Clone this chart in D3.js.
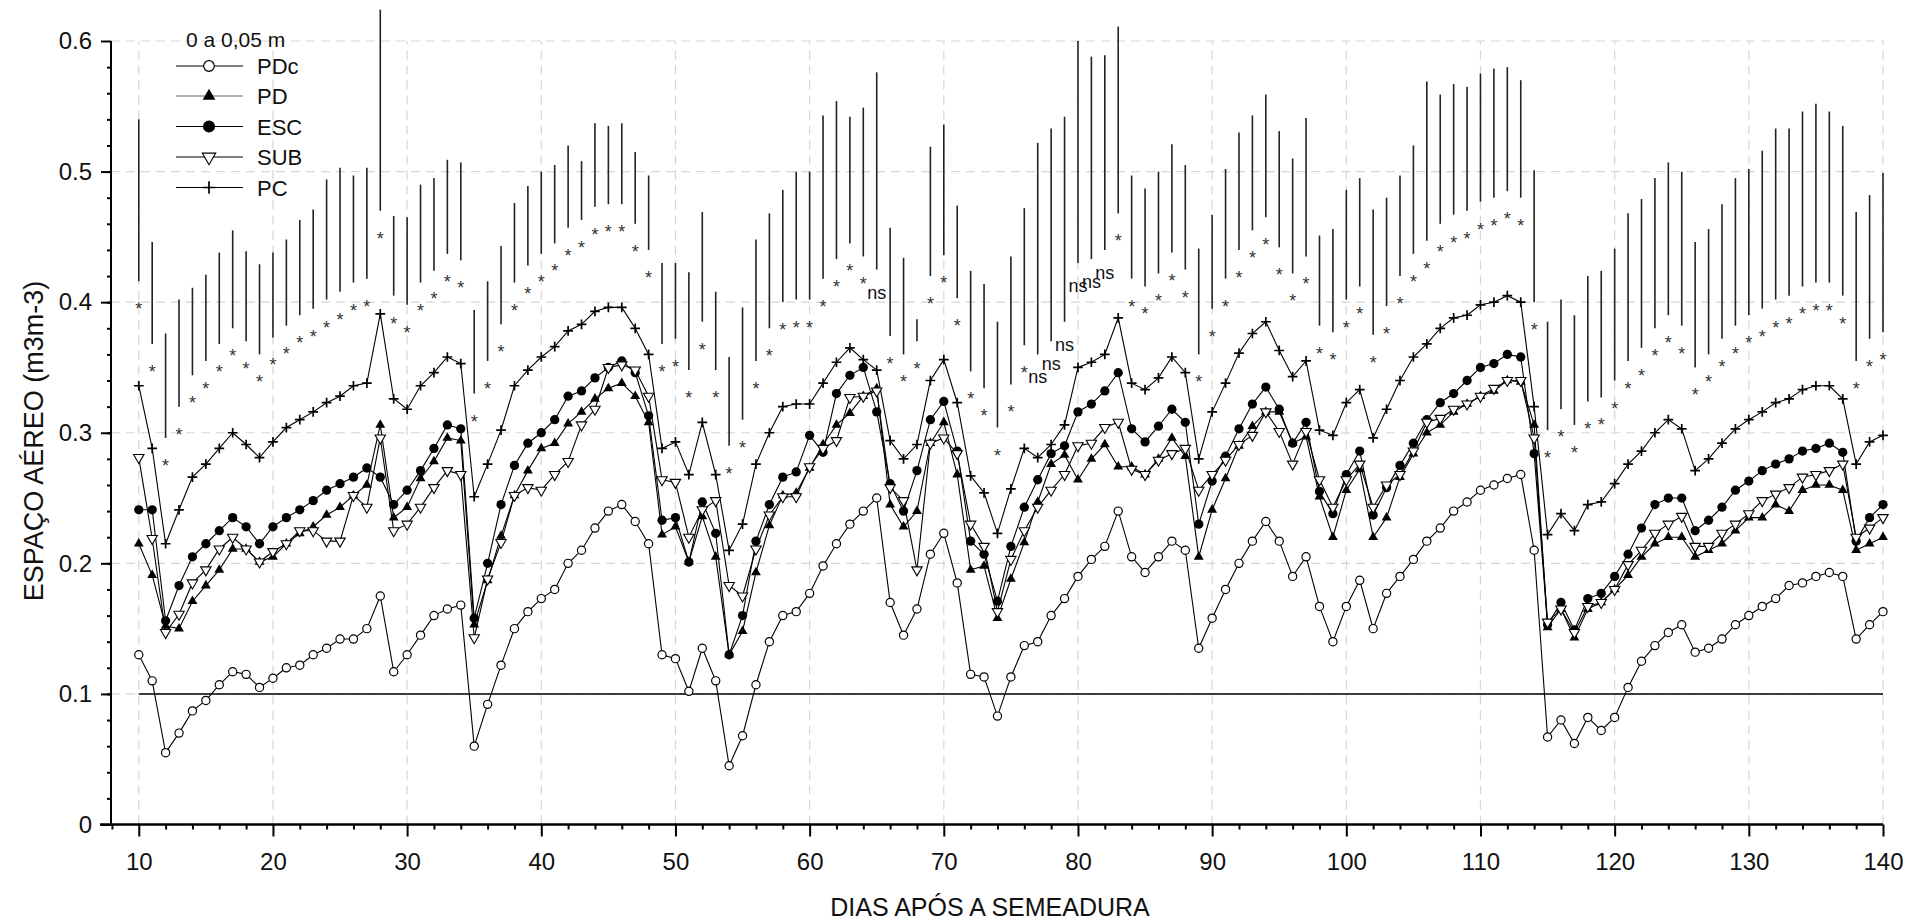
<!DOCTYPE html>
<html>
<head>
<meta charset="utf-8">
<script src="https://cdn.jsdelivr.net/npm/d3@7.9.0/dist/d3.min.js"></script>
<style>
  body { margin: 0; background: #fff; }
  svg { font-family: "Liberation Sans", Arial, sans-serif; }
</style>
</head>
<body>
<svg id="chart" width="1928" height="923"></svg>
<script>
// days after sowing: 10..140
const days = d3.range(10, 141);

// air-filled porosity, 0 to 0.05 m layer
const pdc = [
  .130,.110,.055,.070,.087,.095,.107,.117,.115,.105,
  .112,.120,.122,.130,.135,.142,.142,.150,.175,.117,
  .130,.145,.160,.165,.168,.060,.092,.122,.150,.163,
  .173,.180,.200,.210,.227,.240,.245,.232,.215,.130,
  .127,.102,.135,.110,.045,.068,.107,.140,.160,.163,
  .177,.198,.215,.230,.240,.250,.170,.145,.165,.207,
  .223,.185,.115,.113,.083,.113,.137,.140,.160,.173,
  .190,.203,.213,.240,.205,.193,.205,.217,.210,.135,
  .158,.180,.200,.217,.232,.217,.190,.205,.167,.140,
  .167,.187,.150,.177,.190,.203,.217,.227,.240,.247,
  .256,.260,.265,.268,.210,.067,.080,.062,.082,.072,
  .082,.105,.125,.137,.147,.153,.132,.135,.142,.153,
  .160,.167,.173,.183,.185,.190,.193,.190,.142,.153,.163
];
const pd = [
  .215,.191,.152,.150,.171,.183,.195,.211,.211,.201,
  .205,.215,.223,.228,.237,.243,.252,.260,.306,.235,
  .243,.265,.278,.296,.294,.153,.187,.221,.252,.271,
  .288,.292,.307,.316,.326,.334,.338,.328,.308,.222,
  .228,.201,.236,.205,.130,.148,.193,.229,.252,.254,
  .273,.291,.306,.315,.328,.334,.245,.228,.240,.292,
  .308,.268,.195,.198,.158,.188,.216,.247,.276,.283,
  .264,.280,.291,.274,.274,.268,.280,.296,.282,.205,
  .241,.265,.290,.305,.316,.316,.292,.297,.251,.220,
  .256,.272,.220,.235,.266,.284,.300,.306,.316,.322,
  .328,.332,.340,.339,.306,.151,.165,.143,.165,.170,
  .180,.191,.205,.215,.220,.220,.205,.210,.215,.225,
  .235,.235,.245,.240,.256,.260,.260,.256,.210,.215,.220
];
const esc = [
  .241,.241,.156,.183,.205,.215,.225,.235,.228,.215,
  .228,.235,.241,.248,.256,.261,.266,.273,.266,.245,
  .256,.271,.288,.306,.303,.158,.200,.245,.275,.292,
  .300,.310,.328,.332,.342,.350,.355,.346,.313,.233,
  .235,.201,.247,.223,.130,.160,.217,.245,.266,.270,
  .298,.285,.330,.344,.350,.316,.261,.240,.271,.310,
  .324,.286,.217,.207,.171,.213,.243,.264,.284,.290,
  .316,.322,.332,.346,.303,.293,.305,.318,.308,.230,
  .263,.282,.303,.322,.335,.318,.292,.308,.255,.238,
  .268,.286,.237,.258,.275,.292,.310,.323,.330,.340,
  .350,.353,.360,.358,.284,.153,.170,.149,.173,.177,
  .190,.207,.227,.245,.250,.250,.225,.233,.243,.256,
  .263,.271,.276,.280,.286,.288,.292,.285,.217,.235,.245
];
const sub = [
  .281,.219,.147,.161,.185,.195,.211,.220,.211,.201,
  .209,.215,.225,.225,.217,.217,.252,.243,.296,.225,
  .230,.243,.258,.271,.268,.143,.188,.216,.252,.258,
  .256,.268,.278,.306,.318,.350,.352,.348,.328,.264,
  .262,.220,.241,.248,.183,.175,.211,.237,.251,.251,
  .274,.288,.294,.327,.328,.332,.258,.248,.195,.292,
  .296,.284,.230,.213,.163,.203,.225,.243,.256,.268,
  .290,.292,.304,.308,.272,.268,.279,.284,.288,.256,
  .268,.279,.291,.298,.316,.301,.276,.301,.264,.243,
  .264,.276,.243,.260,.268,.286,.308,.311,.318,.322,
  .328,.334,.340,.340,.296,.155,.165,.147,.167,.170,
  .180,.199,.210,.223,.230,.236,.213,.213,.223,.230,
  .238,.248,.253,.258,.266,.268,.271,.276,.220,.227,.235
];
const pc = [
  .336,.288,.215,.241,.266,.276,.288,.300,.291,.281,
  .293,.304,.310,.316,.323,.328,.336,.338,.391,.326,
  .318,.336,.346,.358,.353,.251,.276,.302,.336,.348,
  .358,.366,.378,.383,.393,.396,.396,.380,.360,.288,
  .293,.268,.308,.268,.210,.230,.276,.300,.320,.322,
  .322,.338,.354,.365,.356,.348,.294,.280,.291,.340,
  .356,.323,.267,.254,.223,.257,.288,.281,.291,.306,
  .350,.354,.360,.388,.338,.333,.342,.358,.346,.280,
  .316,.338,.361,.376,.385,.363,.343,.355,.302,.298,
  .323,.333,.296,.318,.340,.358,.368,.380,.388,.390,
  .398,.400,.405,.400,.320,.222,.238,.225,.245,.247,
  .261,.276,.286,.300,.310,.303,.271,.280,.292,.303,
  .310,.316,.323,.326,.333,.336,.336,.326,.276,.293,.298
];

// vertical bars (low / high end) and the significance label under each
const barLow = [
  .416,.368,.296,.320,.344,.355,.368,.380,.370,.360,
  .373,.382,.390,.395,.402,.408,.415,.418,.470,.405,
  .398,.415,.424,.437,.432,.330,.355,.383,.415,.428,
  .437,.445,.457,.463,.473,.475,.475,.460,.440,.368,
  .372,.348,.385,.348,.290,.310,.355,.380,.400,.402,
  .402,.418,.433,.445,.435,.425,.374,.360,.370,.420,
  .436,.403,.347,.334,.304,.337,.367,.360,.370,.385,
  .430,.433,.440,.468,.418,.412,.422,.438,.425,.360,
  .395,.418,.440,.455,.465,.442,.422,.435,.382,.377,
  .402,.412,.375,.397,.420,.437,.447,.460,.467,.470,
  .477,.480,.485,.480,.400,.302,.318,.306,.324,.327,
  .340,.355,.365,.380,.390,.382,.350,.360,.372,.382,
  .390,.395,.402,.405,.412,.415,.415,.405,.355,.372,.377
];
const barHigh = [
  .540,.446,.376,.402,.411,.421,.438,.455,.439,.429,
  .438,.448,.463,.471,.494,.503,.497,.503,.624,.466,
  .465,.490,.495,.509,.507,.394,.416,.443,.476,.489,
  .500,.505,.520,.508,.537,.535,.537,.515,.497,.430,
  .430,.423,.469,.408,.358,.396,.448,.468,.486,.500,
  .500,.543,.554,.542,.549,.576,.457,.434,.387,.519,
  .536,.474,.424,.414,.385,.435,.472,.522,.533,.542,
  .600,.588,.589,.611,.497,.487,.500,.521,.505,.441,
  .467,.502,.530,.543,.559,.531,.510,.541,.451,.456,
  .486,.495,.471,.480,.497,.520,.569,.559,.567,.565,
  .575,.579,.580,.570,.501,.385,.402,.390,.420,.424,
  .441,.468,.479,.495,.507,.500,.446,.456,.475,.495,
  .502,.516,.533,.533,.546,.552,.546,.535,.469,.482,.499
];
const nsDays = [65, 77, 78, 79, 80, 81, 82];

const yTicks = [0, 0.1, 0.2, 0.3, 0.4, 0.5, 0.6];
const xTicks = d3.range(10, 141, 10);
const legendTitle = "0 a 0,05 m";

const series = [
  { name: "PDc", values: pdc, marker: "circleOpen" },
  { name: "PD", values: pd, marker: "triUp" },
  { name: "ESC", values: esc, marker: "circleFilled" },
  { name: "SUB", values: sub, marker: "triDown" },
  { name: "PC", values: pc, marker: "plus" }
];

const svg = d3.select("#chart");
const x = d3.scaleLinear().domain([7.93, 140]).range([111, 1883]);
const y = d3.scaleLinear().domain([0, 0.6]).range([824.5, 41]);

// grid
const grid = svg.append("g").attr("stroke", "#d6d6d6").attr("stroke-width", 1.2)
  .attr("stroke-dasharray", "9,6");
yTicks.filter(d => d > 0).forEach(d => {
  grid.append("line").attr("x1", x(7.93)).attr("x2", x(140)).attr("y1", y(d)).attr("y2", y(d));
});
xTicks.forEach(d => {
  grid.append("line").attr("x1", x(d)).attr("x2", x(d)).attr("y1", y(0)).attr("y2", y(0.6));
});

// reference line at 0.1
svg.append("line")
  .attr("x1", x(10)).attr("x2", x(140)).attr("y1", y(0.1)).attr("y2", y(0.1))
  .attr("stroke", "#000").attr("stroke-width", 1.5);

// bars + labels
const bars = svg.append("g");
days.forEach((d, i) => {
  bars.append("line")
    .attr("x1", x(d)).attr("x2", x(d))
    .attr("y1", y(barLow[i])).attr("y2", y(barHigh[i]))
    .attr("stroke", "#222").attr("stroke-width", 1.6);
  const isNs = nsDays.includes(d);
  bars.append("text")
    .attr("x", x(d)).attr("y", y(barLow[i]) + (isNs ? 29 : 34))
    .attr("text-anchor", "middle")
    .attr("font-size", isNs ? 18 : 18)
    .attr("fill", isNs ? "#111" : "#333")
    .text(isNs ? "ns" : "*");
});

// series lines
const line = d3.line().x((v, i) => x(days[i])).y(v => y(v));
series.forEach(s => {
  svg.append("path").datum(s.values)
    .attr("d", line).attr("fill", "none").attr("stroke", "#000").attr("stroke-width", 1.1);
});

function drawMarker(g, type, cx, cy, big) {
  const k = big ? 1.4 : 1.08;
  if (type === "circleOpen") {
    g.append("circle").attr("cx", cx).attr("cy", cy).attr("r", 3.8 * k)
      .attr("fill", "#fff").attr("stroke", "#000").attr("stroke-width", 1.2);
  } else if (type === "circleFilled") {
    g.append("circle").attr("cx", cx).attr("cy", cy).attr("r", 4.3 * k).attr("fill", "#000");
  } else if (type === "triUp") {
    g.append("path").attr("d", d3.symbol(d3.symbolTriangle, 36 * k * k)())
      .attr("transform", `translate(${cx},${cy})`).attr("fill", "#000");
  } else if (type === "triDown") {
    g.append("path").attr("d", d3.symbol(d3.symbolTriangle, 40 * k * k)())
      .attr("transform", `translate(${cx},${cy}) rotate(180)`)
      .attr("fill", "#fff").attr("stroke", "#000").attr("stroke-width", 1.1);
  } else if (type === "plus") {
    const a = 4.5 * k;
    g.append("path").attr("d", `M${cx - a},${cy}H${cx + a}M${cx},${cy - a}V${cy + a}`)
      .attr("stroke", "#000").attr("stroke-width", 1.7);
  }
}

const marks = svg.append("g");
series.forEach(s => {
  s.values.forEach((v, i) => drawMarker(marks, s.marker, x(days[i]), y(v), false));
});

// axes
const xMajor = d3.axisBottom(x).tickValues(xTicks).tickSize(12).tickPadding(16);
const xMinor = d3.axisBottom(x).tickValues(d3.range(8, 141, 2).filter(d => d % 10 !== 0))
  .tickSize(5).tickFormat("");
const gx = svg.append("g").attr("transform", `translate(0,${y(0)})`).call(xMajor);
const gx2 = svg.append("g").attr("transform", `translate(0,${y(0)})`).call(xMinor);
const yMajor = d3.axisLeft(y).tickValues(yTicks).tickSize(10).tickPadding(9)
  .tickFormat(d => d === 0 ? "0" : d3.format(".1f")(d));
const yMinor = d3.axisLeft(y).tickValues(d3.range(0.02, 0.6, 0.02)).tickSize(4).tickFormat("");
const gy = svg.append("g").attr("transform", `translate(${x(7.93)},0)`).call(yMajor);
const gy2 = svg.append("g").attr("transform", `translate(${x(7.93)},0)`).call(yMinor);
[gx, gx2, gy, gy2].forEach(g => {
  g.select(".domain").remove();
  g.selectAll(".tick line").attr("stroke", "#000").attr("stroke-width", 2);
  g.selectAll("text").attr("font-size", 24).attr("fill", "#111")
    .attr("font-family", '"Liberation Sans", Arial, sans-serif');
});
svg.append("line").attr("x1", 100).attr("x2", x(140)).attr("y1", y(0)).attr("y2", y(0))
  .attr("stroke", "#000").attr("stroke-width", 2.6);
svg.append("line").attr("x1", x(7.93)).attr("x2", x(7.93)).attr("y1", y(0)).attr("y2", y(0.6))
  .attr("stroke", "#000").attr("stroke-width", 2);

// axis titles
svg.append("text").attr("x", 990).attr("y", 916).attr("text-anchor", "middle")
  .attr("font-size", 25).attr("fill", "#111").text("DIAS APÓS A SEMEADURA");
svg.append("text").attr("transform", "translate(43,441) rotate(-90)").attr("text-anchor", "middle")
  .attr("font-size", 27).attr("fill", "#111").text("ESPAÇO AÉREO (m3m-3)");

// legend
const lg = svg.append("g");
lg.append("text").attr("x", 186).attr("y", 47).attr("font-size", 21).attr("fill", "#111").text(legendTitle);
const rowY = [66, 96, 126.5, 157, 187.5];
series.forEach((s, i) => {
  const cy = rowY[i];
  lg.append("line").attr("x1", 176).attr("x2", 243).attr("y1", cy).attr("y2", cy)
    .attr("stroke", s.name === "PD" ? "#666" : "#000").attr("stroke-width", 1.2);
  drawMarker(lg, s.marker, 209, cy, true);
  lg.append("text").attr("x", 257).attr("y", cy + 8).attr("font-size", 22).attr("fill", "#111").text(s.name);
});
</script>
</body>
</html>
